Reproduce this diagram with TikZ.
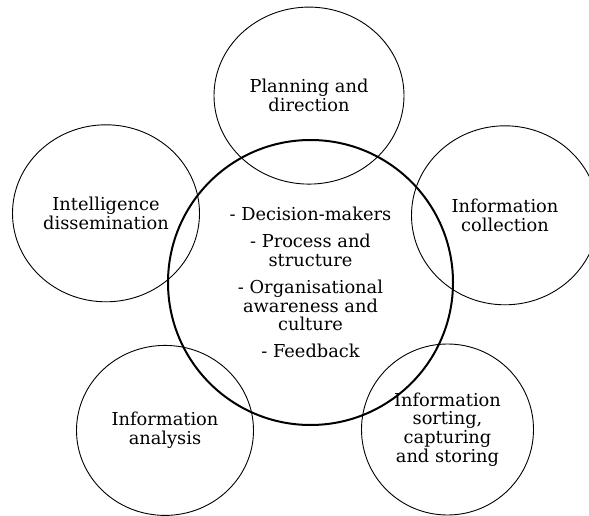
\documentclass[tikz,border=0pt]{standalone}
\usepackage{fontspec}
\setmainfont{DejaVu Serif}
\usetikzlibrary{shapes.geometric}
\tikzset{stage/.style={draw,ellipse,line width=.9pt,inner sep=0pt,align=center,
    font=\fontsize{17.8}{18.7}\selectfont}}

\begin{document}
\begin{tikzpicture}[x=1pt,y=-1pt]
\useasboundingbox (0,0) rectangle (589,516);
% the five stages round the cycle
\node[stage,minimum width=190pt,minimum height=177pt] (plan) at (309,95.6) {Planning and\\direction};
\node[stage,minimum width=187pt,minimum height=177pt] (dissem) at (106,213.3) {Intelligence\\dissemination};
\node[stage,minimum width=187pt,minimum height=179pt] (collect) at (505,215.3) {Information\\collection};
\node[stage,minimum width=177pt,minimum height=170pt] (analyse) at (165,430.4) {Information\\analysis};
\node[stage,minimum width=172pt,minimum height=171pt] (sort) at (447.5,429.5) {Information\\sorting,\\capturing\\and storing};
% the core in the middle
\node[stage,line width=2pt,minimum width=285pt,minimum height=285pt] (core) at (310.5,282.5)
  {- Decision-makers\\[8.5pt]- Process and\\structure\\[8.5pt]- Organisational\\awareness and\\culture\\[8.5pt]- Feedback};
\end{tikzpicture}
\end{document}
